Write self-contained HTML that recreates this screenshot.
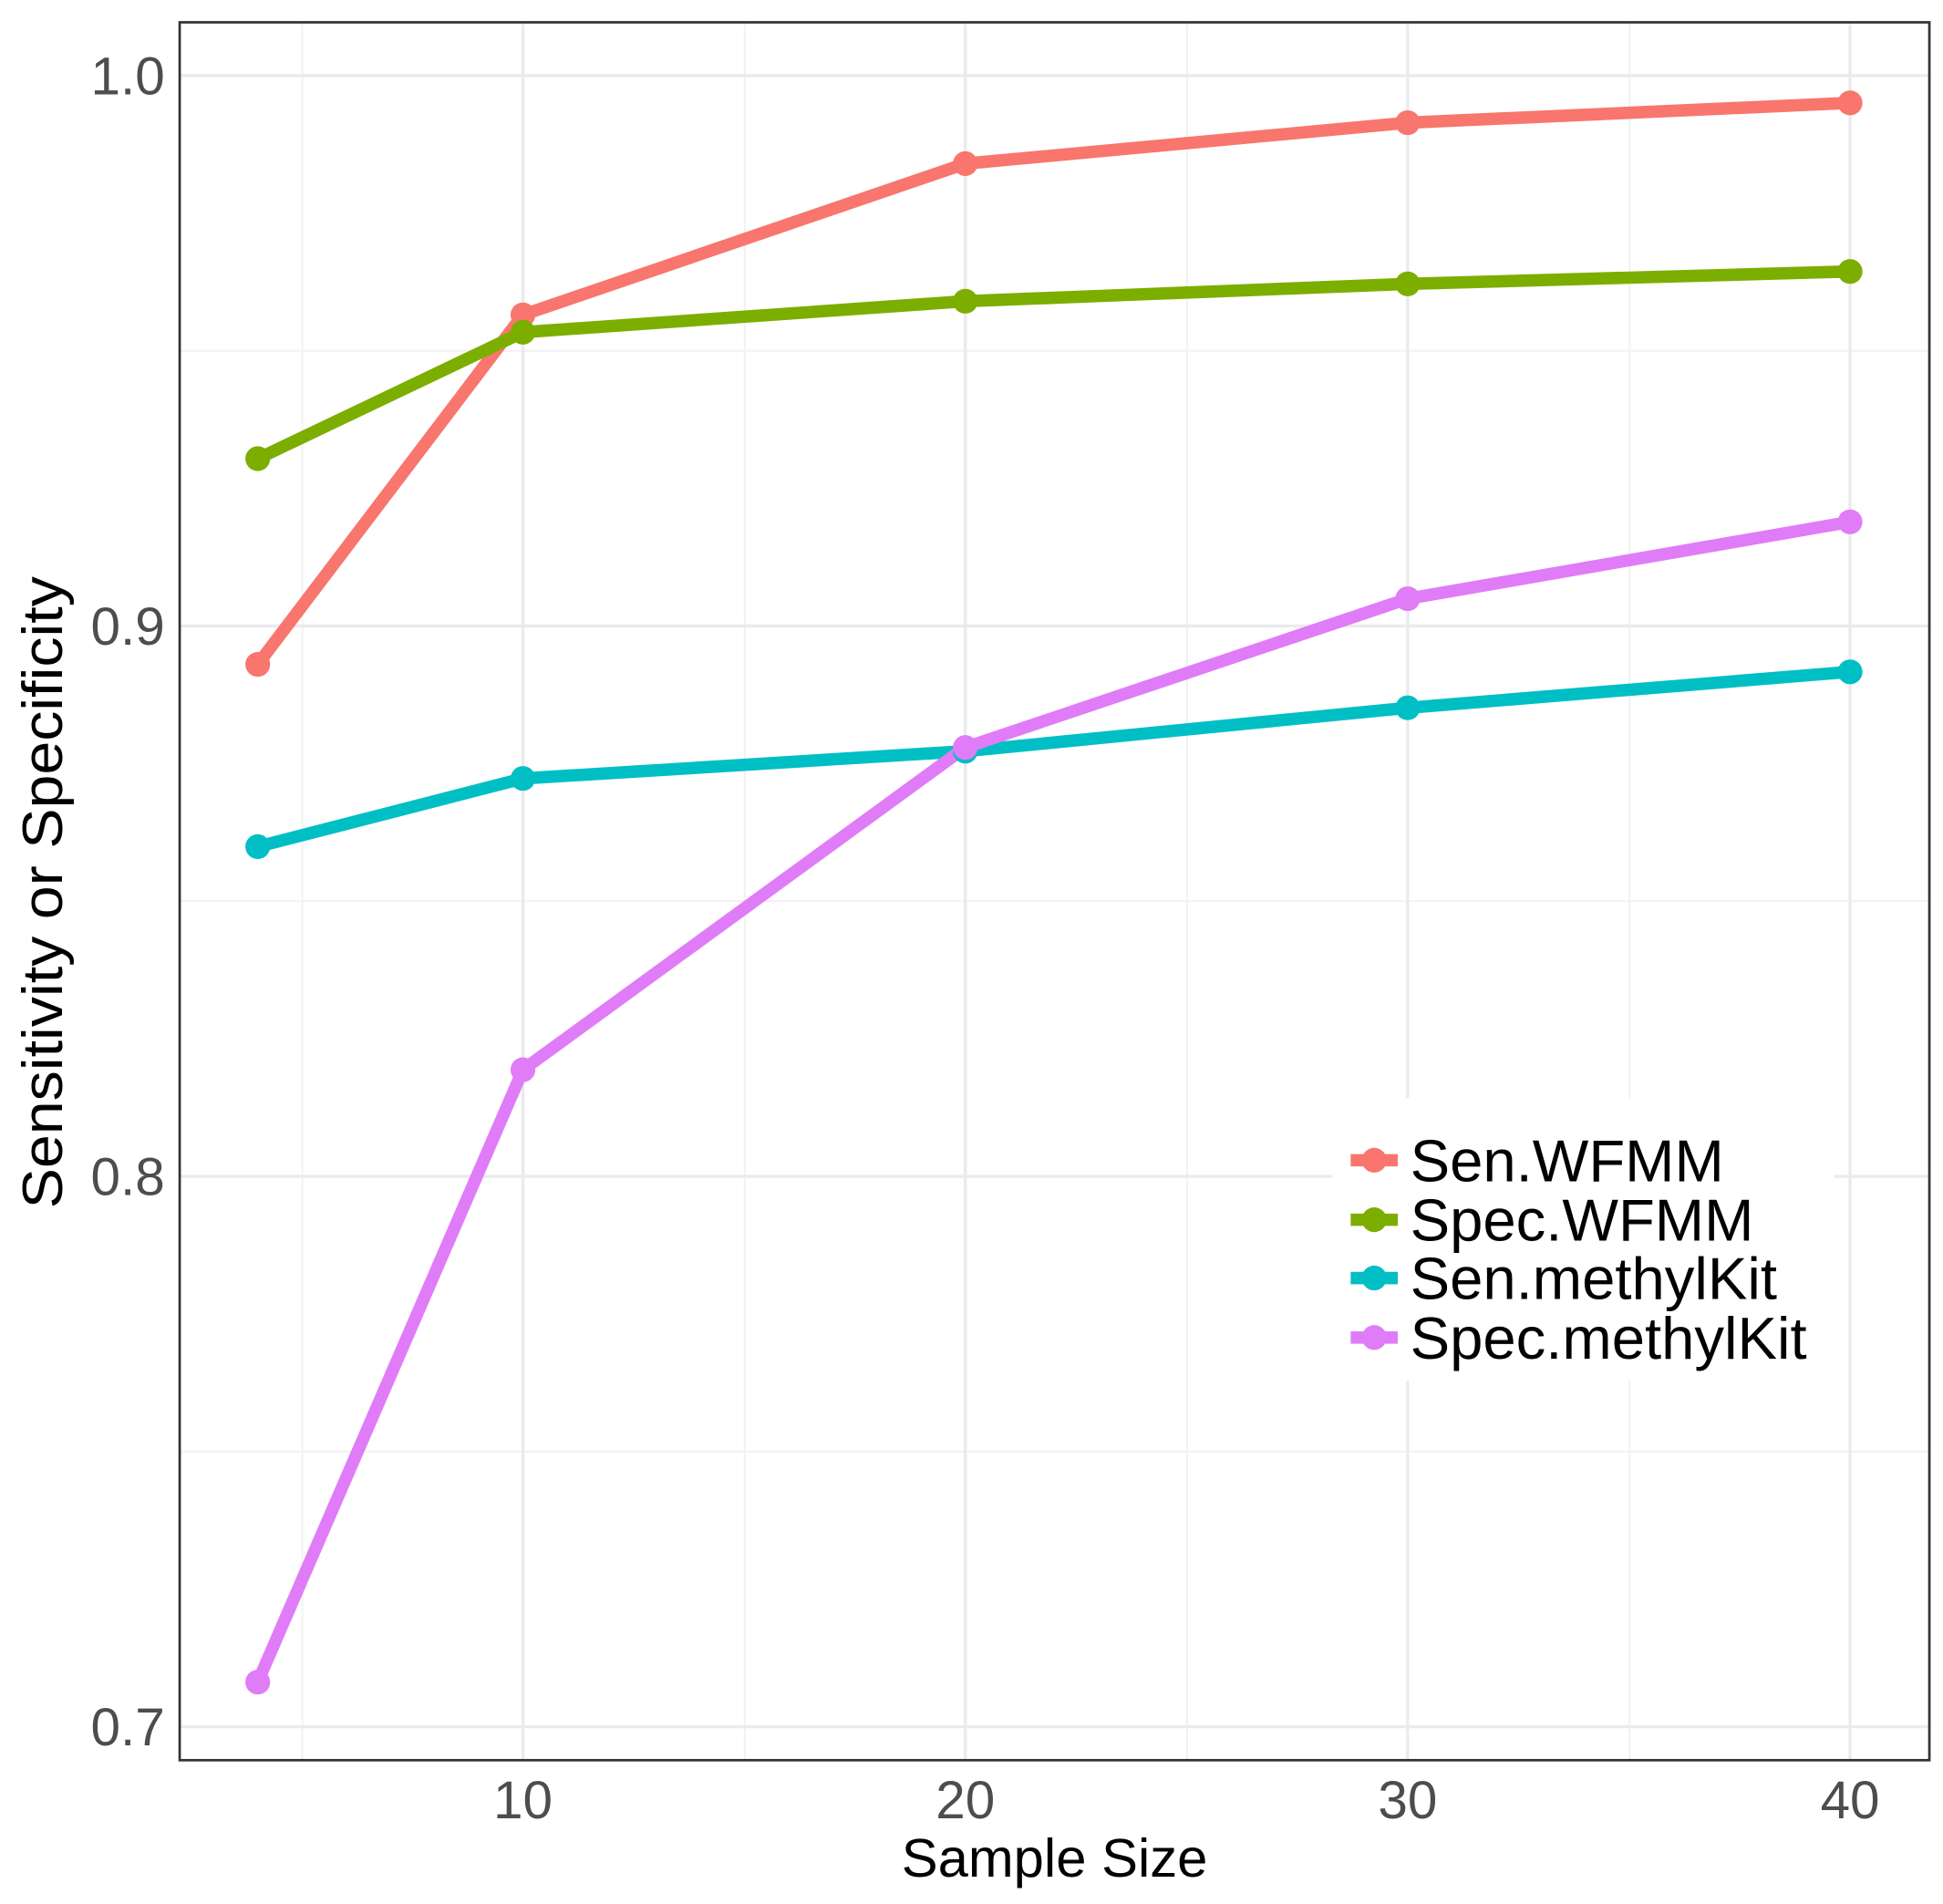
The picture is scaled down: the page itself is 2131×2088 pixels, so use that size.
<!DOCTYPE html>
<html><head><meta charset="utf-8"><style>html,body{margin:0;padding:0;background:#fff}svg{display:block}</style></head>
<body>
<svg width="2131" height="2088" viewBox="0 0 1568 1536" preserveAspectRatio="none" xmlns="http://www.w3.org/2000/svg" font-family="Liberation Sans, sans-serif">
<rect width="1568" height="1536" fill="#fff"/>
<g stroke="#f2f2f2" stroke-width="1.5">
<line x1="145" x2="1557" y1="283" y2="283"/><line x1="145" x2="1557" y1="727" y2="727"/><line x1="145" x2="1557" y1="1171" y2="1171"/>
<line y1="18" y2="1420" x1="244" x2="244"/><line y1="18" y2="1420" x1="601" x2="601"/><line y1="18" y2="1420" x1="958" x2="958"/><line y1="18" y2="1420" x1="1315" x2="1315"/>
</g>
<g stroke="#ebebeb" stroke-width="2.5">
<line x1="145" x2="1557" y1="61" y2="61"/><line x1="145" x2="1557" y1="505" y2="505"/><line x1="145" x2="1557" y1="949" y2="949"/><line x1="145" x2="1557" y1="1393" y2="1393"/>
<line y1="18" y2="1420" x1="422" x2="422"/><line y1="18" y2="1420" x1="779" x2="779"/><line y1="18" y2="1420" x1="1136" x2="1136"/><line y1="18" y2="1420" x1="1493" x2="1493"/>
</g>
<g fill="none" stroke-width="10" stroke-linejoin="round">
<polyline stroke="#F8766D" points="208,536 422,254 779,132 1136,99 1493,83"/>
<polyline stroke="#7CAE00" points="208,370 422,268 779,243 1136,229 1493,219"/>
<polyline stroke="#00BFC4" points="208,683 422,628 779,606 1136,571 1493,542"/>
<polyline stroke="#E07CF8" points="208,1357 422,863 779,603 1136,483 1493,421"/>
</g>
<g fill="#F8766D"><circle cx="208" cy="536" r="10"/><circle cx="422" cy="254" r="10"/><circle cx="779" cy="132" r="10"/><circle cx="1136" cy="99" r="10"/><circle cx="1493" cy="83" r="10"/></g>
<g fill="#7CAE00"><circle cx="208" cy="370" r="10"/><circle cx="422" cy="268" r="10"/><circle cx="779" cy="243" r="10"/><circle cx="1136" cy="229" r="10"/><circle cx="1493" cy="219" r="10"/></g>
<g fill="#00BFC4"><circle cx="208" cy="683" r="10"/><circle cx="422" cy="628" r="10"/><circle cx="779" cy="606" r="10"/><circle cx="1136" cy="571" r="10"/><circle cx="1493" cy="542" r="10"/></g>
<g fill="#E07CF8"><circle cx="208" cy="1357" r="10"/><circle cx="422" cy="863" r="10"/><circle cx="779" cy="603" r="10"/><circle cx="1136" cy="483" r="10"/><circle cx="1493" cy="421" r="10"/></g>
<rect x="145" y="18" width="1412" height="1402" fill="none" stroke="#333" stroke-width="2"/>
<g font-size="43" fill="#4d4d4d" text-anchor="end">
<text x="133" y="76">1.0</text><text x="133" y="520">0.9</text><text x="133" y="964">0.8</text><text x="133" y="1408">0.7</text>
</g>
<g font-size="43" fill="#4d4d4d" text-anchor="middle">
<text x="422" y="1467">10</text><text x="779" y="1467">20</text><text x="1136" y="1467">30</text><text x="1493" y="1467">40</text>
</g>
<text x="851" y="1514" font-size="44" text-anchor="middle" fill="#000">Sample Size</text>
<text transform="translate(50,720) rotate(-90)" font-size="46" text-anchor="middle" fill="#000" textLength="510" lengthAdjust="spacingAndGlyphs">Sensitivity or Specificity</text>
<rect x="1075" y="886" width="405" height="228" fill="#fff"/>
<g stroke-width="10">
<line x1="1090" x2="1128" y1="936" y2="936" stroke="#F8766D"/><circle cx="1109" cy="936" r="10" fill="#F8766D"/>
<line x1="1090" x2="1128" y1="984" y2="984" stroke="#7CAE00"/><circle cx="1109" cy="984" r="10" fill="#7CAE00"/>
<line x1="1090" x2="1128" y1="1031" y2="1031" stroke="#00BFC4"/><circle cx="1109" cy="1031" r="10" fill="#00BFC4"/>
<line x1="1090" x2="1128" y1="1079" y2="1079" stroke="#E07CF8"/><circle cx="1109" cy="1079" r="10" fill="#E07CF8"/>
</g>
<g font-size="48" fill="#000">
<text x="1138" y="953">Sen.WFMM</text><text x="1138" y="1001">Spec.WFMM</text><text x="1138" y="1048">Sen.methylKit</text><text x="1138" y="1096">Spec.methylKit</text>
</g>
</svg>
</body></html>
